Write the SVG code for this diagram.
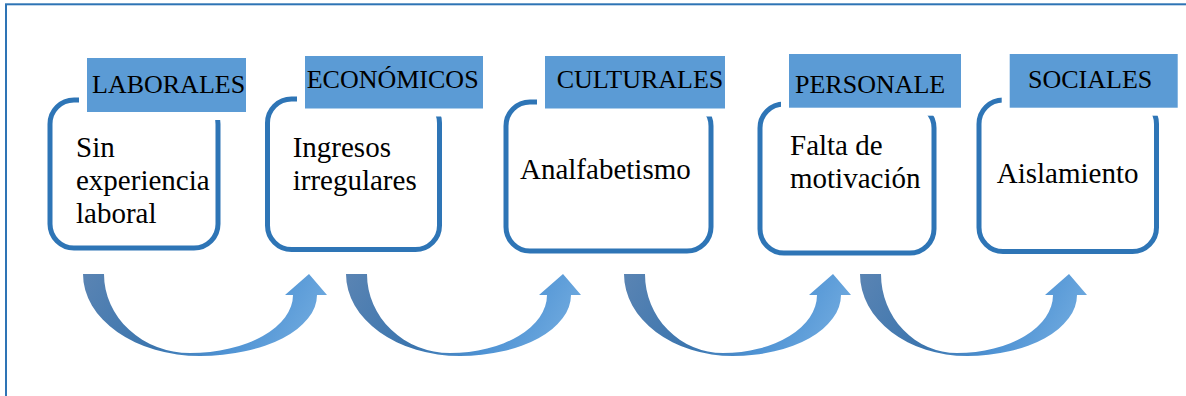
<svg xmlns="http://www.w3.org/2000/svg" width="1186" height="396" viewBox="0 0 1186 396">
<defs>
<style>
.frame{fill:none;stroke:#2e74b5;stroke-width:2}
.box{fill:#fff;stroke:#2e75b6;stroke-width:5}
.lab{fill:#5b9bd5;stroke:#fff;stroke-width:8}
.lt{font-size:26px;fill:#000}
.bt{font-size:29px;fill:#000}
.arr{fill:url(#ag)}
</style>
<linearGradient id="ag" x1="0" y1="0" x2="1" y2="0.2">
<stop offset="0" stop-color="#5a84b3"/>
<stop offset="0.45" stop-color="#3b75ae"/>
<stop offset="0.75" stop-color="#4f93d4"/>
<stop offset="1" stop-color="#6aa6dd"/>
</linearGradient>
</defs>
<rect class="frame" x="6" y="4.3" width="1200" height="420"/>
<g font-family="Liberation Serif, Times New Roman, DejaVu Serif, serif">
<g id="n1">
<rect class="box" x="50" y="100" width="168" height="148" rx="24"/>
<rect class="lab" x="83" y="54" width="167" height="62"/>
<text class="lt" x="92" y="93">LABORALES</text>
<text class="bt" x="76" y="157">Sin</text>
<text class="bt" x="76" y="190">experiencia</text>
<text class="bt" x="76" y="223">laboral</text>
</g>
<g id="n2">
<rect class="box" x="267.5" y="99" width="172" height="150.5" rx="24"/>
<rect class="lab" x="301" y="52" width="186" height="60.5"/>
<text class="lt" x="306.7" y="88.3">ECONÓMICOS</text>
<text class="bt" x="292.7" y="156.7">Ingresos</text>
<text class="bt" x="292.7" y="190">irregulares</text>
</g>
<g id="n3">
<rect class="box" x="506" y="102" width="205" height="149" rx="24"/>
<rect class="lab" x="541" y="52" width="188" height="60.5"/>
<text class="lt" x="556.7" y="88.3">CULTURALES</text>
<text class="bt" x="520" y="179.3">Analfabetismo</text>
</g>
<g id="n4">
<rect class="box" x="760" y="104" width="174" height="149" rx="24"/>
<rect class="lab" x="785" y="50" width="180" height="61.7"/>
<text class="lt" x="795" y="92.7">PERSONALE</text>
<text class="bt" x="790" y="155">Falta de</text>
<text class="bt" x="790" y="188.3">motivación</text>
</g>
<g id="n5">
<rect class="box" x="979" y="100" width="177.5" height="151.5" rx="24"/>
<rect class="lab" x="1005.7" y="50" width="176" height="61.7"/>
<text class="lt" x="1028" y="88.3">SOCIALES</text>
<text class="bt" x="996.7" y="182.7">Aislamiento</text>
</g>
</g>
<g id="connectors">
<path class="arr" d="M 83 274 A 117 82 0 0 0 200 356 A 117 61 0 0 0 317 295 L 327 295 L 309 274 L 285 295 L 293 295 A 103 58 0 0 1 190 353 A 86 79 0 0 1 104 274 Z"/>
<path class="arr" d="M 346 274 A 114 82 0 0 0 460 356 A 111 61 0 0 0 571 295 L 581 295 L 563 274 L 539 295 L 547 295 A 97 58 0 0 1 450 353 A 83 79 0 0 1 367 274 Z"/>
<path class="arr" d="M 624 274 A 109 82 0 0 0 733 356 A 108 61 0 0 0 841 295 L 851 295 L 833 274 L 809 295 L 817 295 A 94 58 0 0 1 723 353 A 78 79 0 0 1 645 274 Z"/>
<path class="arr" d="M 860 274 A 107 82 0 0 0 967 356 A 110 61 0 0 0 1077 295 L 1087 295 L 1069 274 L 1045 295 L 1053 295 A 96 58 0 0 1 957 353 A 76 79 0 0 1 881 274 Z"/>
</g>
</svg>
